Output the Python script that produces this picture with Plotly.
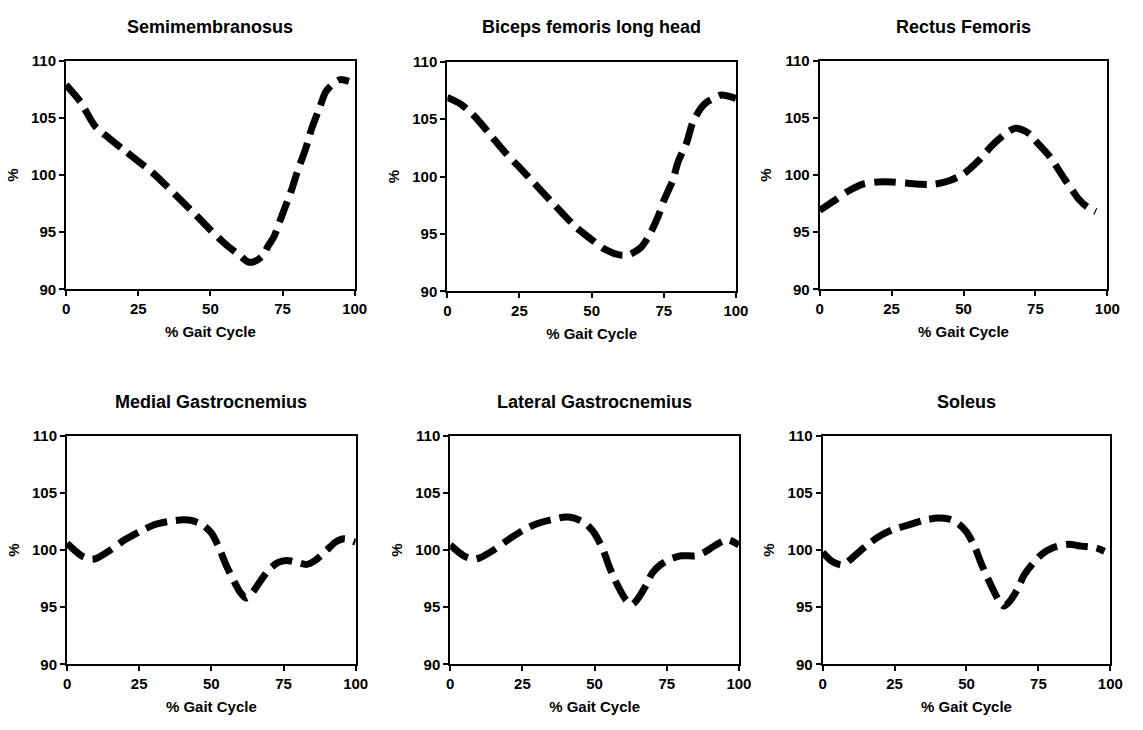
import plotly.graph_objects as go

# ---------------- data ----------------
titles = ["Semimembranosus", "Biceps femoris long head", "Rectus Femoris",
          "Medial Gastrocnemius", "Lateral Gastrocnemius", "Soleus"]

x_tick_vals = [0, 25, 50, 75, 100]
y_tick_vals = [90, 95, 100, 105, 110]

x_semimembranosus = [0, 5, 10, 15, 20, 25, 30, 35, 40, 45, 50, 55, 60, 63, 65, 68, 70, 72, 75, 78, 80, 83, 85, 88, 90, 93, 95, 98]
y_semimembranosus = [107.9, 106.4, 104.3, 103.2, 102.2, 101.2, 100.2, 99.0, 97.75, 96.5, 95.2, 94.0, 93.0, 92.4, 92.4, 92.9, 93.8, 94.6, 96.6, 98.6, 100.2, 102.3, 104.0, 106.0, 107.3, 108.1, 108.35, 108.2]

x_biceps = [0, 5, 10, 15, 20, 25, 30, 35, 40, 45, 50, 55, 60, 63, 67, 70, 73, 75, 78, 80, 83, 85, 88, 90, 93, 95, 100]
y_biceps = [106.9, 106.25, 105.1, 103.6, 102.1, 100.8, 99.45, 98.1, 96.75, 95.5, 94.5, 93.6, 93.15, 93.2, 93.8, 94.9, 96.5, 97.9, 99.6, 101.3, 103.0, 104.7, 106.0, 106.5, 106.9, 107.1, 106.8]

x_rectus = [0, 5, 10, 15, 20, 25, 30, 35, 40, 45, 50, 55, 60, 65, 68, 70, 73, 75, 80, 85, 88, 90, 93, 96]
y_rectus = [96.9, 97.75, 98.6, 99.2, 99.4, 99.4, 99.3, 99.2, 99.2, 99.5, 100.1, 101.2, 102.6, 103.7, 104.1, 104.0, 103.6, 103.0, 101.6, 99.7, 98.6, 97.9, 97.2, 96.8]

x_medial = [0, 3, 5, 8, 10, 15, 20, 25, 30, 35, 40, 43, 47, 50, 53, 55, 58, 60, 62, 64, 67, 70, 73, 76, 80, 83, 86, 90, 93, 96, 100]
y_medial = [100.6, 99.9, 99.5, 99.2, 99.25, 100.0, 100.9, 101.6, 102.2, 102.5, 102.65, 102.6, 102.2, 101.5, 100.0, 98.75, 97.2, 96.3, 95.8, 96.2, 97.3, 98.3, 98.9, 99.1, 98.9, 98.75, 99.1, 100.0, 100.7, 101.0, 100.7]

x_lateral = [0, 3, 5, 8, 10, 15, 20, 25, 30, 35, 40, 43, 47, 50, 53, 55, 58, 61, 63, 65, 68, 70, 73, 76, 80, 85, 88, 92, 96, 100]
y_lateral = [100.45, 99.8, 99.45, 99.2, 99.3, 100.0, 100.9, 101.7, 102.3, 102.65, 102.9, 102.8, 102.3, 101.45, 100.0, 98.6, 96.9, 95.6, 95.25, 95.75, 97.0, 98.0, 98.75, 99.2, 99.5, 99.5, 99.8, 100.45, 100.9, 100.45]

x_soleus = [0, 3, 5, 7, 10, 15, 20, 25, 30, 35, 40, 44, 47, 50, 53, 55, 58, 61, 63, 65, 68, 70, 73, 76, 80, 85, 90, 95, 98]
y_soleus = [99.8, 99.05, 98.8, 98.7, 99.25, 100.35, 101.25, 101.85, 102.2, 102.6, 102.8, 102.7, 102.35, 101.6, 100.2, 98.9, 97.2, 95.7, 95.1, 95.5, 96.7, 97.8, 98.8, 99.6, 100.2, 100.5, 100.35, 100.2, 99.9]

series_x = [x_semimembranosus, x_biceps, x_rectus, x_medial, x_lateral, x_soleus]
series_y = [y_semimembranosus, y_biceps, y_rectus, y_medial, y_lateral, y_soleus]

# ---------------- layout geometry (pixels in a 1143x730 page) ----------------
W, H = 1143, 730
boxes = [  # left, right, top, bottom
    (63, 356, 53, 287),
    (450, 743, 54, 289),
    (828, 1120, 53, 287),
    (64, 357, 437, 671),
    (453, 746, 437, 671),
    (831, 1123, 437, 671),
]

FONT = "Liberation Sans, Arial, sans-serif"

fig = go.Figure()
layout = dict(
    width=W, height=H,
    margin=dict(l=0, r=0, t=0, b=0),
    paper_bgcolor="white", plot_bgcolor="white",
    showlegend=False,
    font=dict(family=FONT, color="black"),
    annotations=[],
)

for i in range(6):
    n = "" if i == 0 else str(i + 1)
    xa, ya = "x" + n, "y" + n
    l, r, t, b = boxes[i]
    fig.add_trace(go.Scatter(
        x=series_x[i], y=series_y[i], mode="lines",
        xaxis=xa, yaxis=ya,
        line=dict(color="black", width=7, dash="22px,9px", shape="spline", smoothing=0.8),
        hoverinfo="skip",
    ))
    axis_common = dict(
        showline=True, linecolor="black", linewidth=2, mirror=True,
        ticks="outside", ticklen=5, tickwidth=2, tickcolor="black",
        showgrid=False, zeroline=False,
        tickfont=dict(family=FONT, size=15, color="black", weight="bold"),
        fixedrange=True,
    )
    layout["xaxis" + n] = dict(
        axis_common,
        domain=[l / W, r / W], anchor=ya,
        range=[0, 100], tickvals=x_tick_vals, ticktext=[str(v) for v in x_tick_vals],
        title=dict(text="% Gait Cycle", font=dict(family=FONT, size=15, color="black", weight="bold"), standoff=10),
    )
    layout["yaxis" + n] = dict(
        axis_common,
        domain=[1 - b / H, 1 - t / H], anchor=xa,
        range=[90, 110], tickvals=y_tick_vals, ticktext=[str(v) for v in y_tick_vals],
        title=dict(text="%", font=dict(family=FONT, size=15, color="black", weight="bold"), standoff=9),
    )
    title_y = 18 if i < 3 else 402
    layout["annotations"].append(dict(
        text="<b>" + titles[i] + "</b>",
        x=(l + r) / 2 / W, y=1 - title_y / H, xref="paper", yref="paper",
        xanchor="center", yanchor="middle", showarrow=False,
        font=dict(family=FONT, size=18, color="black"),
    ))

fig.update_layout(**layout)
fig.write_html("out.html")
